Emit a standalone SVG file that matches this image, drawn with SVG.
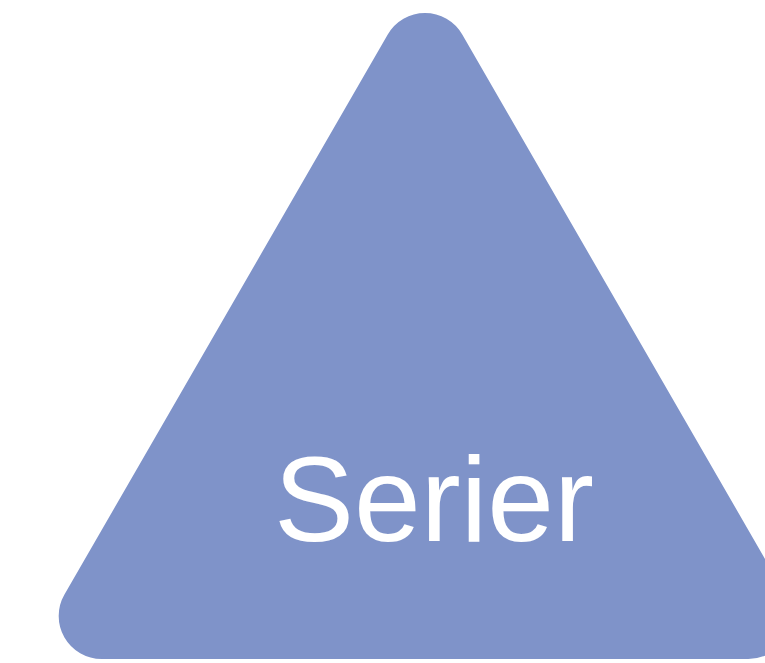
<svg xmlns="http://www.w3.org/2000/svg" width="765" height="663" viewBox="0 0 765 663">
<style>
.shape{fill:#7f93c9;}
.label{fill:#ffffff;font-family:"Liberation Sans",Arial,sans-serif;font-size:120px;}
</style>
<rect width="765" height="663" fill="#ffffff"/>
<g id="node-serier">
<path class="shape" d="M 387.75 34.5 A 43 43 0 0 1 462.25 34.5 L 785.55 594.5 A 43 43 0 0 1 748.3 659 L 101.7 659 A 43 43 0 0 1 64.45 594.5 Z"/>
<text class="label" x="434" y="541" text-anchor="middle">Serier</text>
</g>
<g id="connectors"></g>
</svg>
